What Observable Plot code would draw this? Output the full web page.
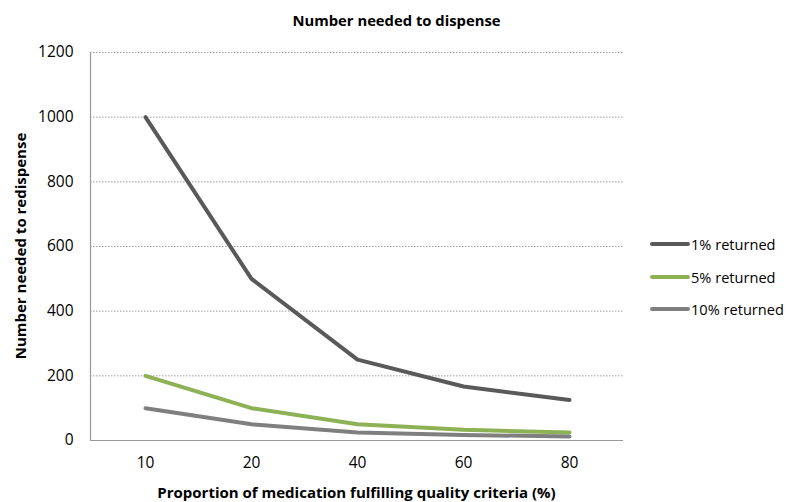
<!DOCTYPE html>
<html><head><meta charset="utf-8">
<script src="https://cdn.jsdelivr.net/npm/d3@7"></script>
<script src="https://cdn.jsdelivr.net/npm/@observablehq/plot@0.6"></script>
<style>
body{margin:0;background:#fff;font-family:"Open Sans",sans-serif;color:#000;}
#wrap{position:relative;width:793px;height:502px;}
#title{position:absolute;left:0;width:793px;top:10px;text-align:center;font-weight:bold;font-size:14.8px;line-height:20px;}
#ytitle{position:absolute;left:20px;top:246px;transform:translate(-50%,-50%) rotate(-90deg);font-weight:bold;font-size:15px;white-space:nowrap;line-height:20px;}
#xtitle{position:absolute;left:90px;width:533px;top:482px;text-align:center;font-weight:bold;font-size:15px;line-height:20px;}
.leg{position:absolute;left:650px;font-size:14.6px;line-height:20px;display:flex;align-items:center;white-space:nowrap;}
.leg span.sw{display:inline-block;width:40px;height:4px;border-radius:2px;margin-right:1px;}
svg text{fill:#000;}
</style></head>
<body><div id="wrap">
<div id="title">Number needed to dispense</div>
<div id="ytitle">Number needed to redispense</div>
<div id="xtitle">Proportion of medication fulfilling quality criteria (%)</div>
<div id="legend"></div>
</div>
<script>
const categories = ["10","20","40","60","80"];
const seriesNames = ["1% returned","5% returned","10% returned"];
const returned1 = [1000, 500, 250, 167, 125];
const returned5 = [200, 100, 50, 33, 25];
const returned10 = [100, 50, 25, 17, 12.5];
const yTicks = [0,200,400,600,800,1000,1200];
const colors = ["#595959","#8db255","#7f7f7f"];

const allSeries = [returned1, returned5, returned10];
const data = [];
allSeries.forEach((vals, si) => vals.forEach((v, i) => data.push({x: categories[i], y: v, s: seriesNames[si]})));

const plot = Plot.plot({
  width: 793, height: 502,
  marginLeft: 90, marginRight: 170, marginTop: 52, marginBottom: 62,
  style: {fontFamily: "'Open Sans', sans-serif", fontSize: "15.5px", color: "#000", background: "transparent"},
  x: {type: "point", domain: categories, padding: 0.5, label: null},
  y: {domain: [0, 1200], ticks: yTicks, label: null},
  color: {domain: seriesNames, range: colors},
  marks: [
    Plot.gridY(yTicks.filter(d => d > 0), {stroke: "#888", strokeOpacity: 1, strokeDasharray: "1.5,1.5", strokeWidth: 0.8}),
    Plot.axisY({ticks: yTicks, tickSize: 0, tickPadding: 17, fontSize: 15.5, tickFormat: d => String(d), label: null}),
    Plot.axisX({tickSize: 0, tickPadding: 16, fontSize: 15.5, label: null}),
    Plot.frame({anchor: "left", stroke: "#999", strokeWidth: 1.2}),
    Plot.ruleY([0], {stroke: "#999", strokeWidth: 1.2}),
    Plot.line(data, {x: "x", y: "y", stroke: "s", z: "s", strokeWidth: 4, strokeLinejoin: "round"})
  ]
});
document.getElementById("wrap").prepend(plot);
plot.style.position = "absolute"; plot.style.left = "0"; plot.style.top = "0";

const legY = [244, 277, 309];
const leg = document.getElementById("legend");
seriesNames.forEach((n, i) => {
  const d = document.createElement("div");
  d.className = "leg";
  d.style.top = (legY[i] - 10) + "px";
  d.innerHTML = `<span class="sw" style="background:${colors[i]}"></span>${n}`;
  leg.appendChild(d);
});
</script>
</body></html>
